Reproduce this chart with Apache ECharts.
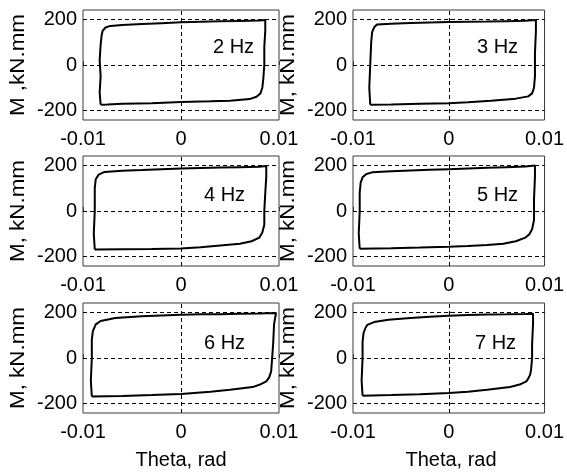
<!DOCTYPE html>
<html>
<head>
<meta charset="utf-8">
<script src="https://cdn.jsdelivr.net/npm/echarts@6/dist/echarts.min.js"></script>
<style>
html,body{margin:0;padding:0;background:#fff;}
#chart{width:567px;height:472px;}
</style>
</head>
<body>
<div id="chart"></div>
<script>
// ---- data ----
const panelLabels = ['2 Hz', '3 Hz', '4 Hz', '5 Hz', '6 Hz', '7 Hz'];
const yAxisTitles = ['M ,kN.mm', 'M, kN.mm', 'M, kN.mm', 'M, kN.mm', 'M, kN.mm', 'M, kN.mm'];
const xAxisTitle = 'Theta, rad';
const xTicks = [-0.01, 0, 0.01];
const yTicks = [-200, 0, 200];

const theta2Hz = [-0.0082,-0.0083,-0.0082,-0.0083,-0.0082,-0.0081,-0.0080,-0.0077,-0.0072,-0.006,-0.004,-0.002,0,0.002,0.004,0.006,0.008,0.0086,0.0086,0.0085,0.0085,0.0084,0.0083,0.0081,0.0077,0.007,0.005,0.003,0,-0.003,-0.006,-0.0075,-0.0082];
const moment2Hz = [-175,-120,-50,20,90,130,150,165,172,176,180,184,188,190,192,194,196,198,150,80,0,-60,-100,-125,-140,-150,-157,-160,-163,-168,-171,-174,-175];

const theta3Hz = [-0.0082,-0.0083,-0.0082,-0.0081,-0.0080,-0.0078,-0.0075,-0.006,-0.004,-0.002,0,0.002,0.004,0.006,0.008,0.0091,0.0091,0.0090,0.0090,0.0089,0.0087,0.0083,0.007,0.0044,0.002,0,-0.003,-0.006,-0.0082];
const moment3Hz = [-175,-100,0,100,145,165,178,182,185,187,189,190,191,193,195,198,150,50,-50,-100,-125,-138,-148,-157,-164,-168,-171,-174,-175];

const theta4Hz = [-0.0088,-0.0089,-0.0088,-0.0088,-0.0087,-0.0084,-0.0078,-0.006,-0.004,-0.002,0,0.002,0.004,0.006,0.008,0.0087,0.0087,0.0086,0.0085,0.0085,0.0083,0.0080,0.0072,0.006,0.004,0.002,0,-0.003,-0.006,-0.0088];
const moment4Hz = [-169,-100,0,100,140,160,172,177,180,184,187,189,191,193,195,198,150,80,0,-60,-95,-117,-133,-144,-152,-160,-165,-167,-168,-169];

const theta5Hz = [-0.0093,-0.0094,-0.0093,-0.0093,-0.0092,-0.0090,-0.0086,-0.008,-0.006,-0.004,-0.002,0,0.002,0.004,0.006,0.008,0.0090,0.0090,0.0089,0.0089,0.0087,0.0084,0.0080,0.007,0.0057,0.004,0.002,0,-0.003,-0.006,-0.0093];
const moment5Hz = [-166,-100,0,80,125,148,163,170,175,178,181,184,187,190,193,196,200,150,50,-40,-80,-103,-117,-133,-144,-150,-154,-157,-161,-164,-166];

const theta6Hz = [-0.0091,-0.0092,-0.0091,-0.0091,-0.0090,-0.0087,-0.0082,-0.0067,-0.004,-0.002,0,0.002,0.004,0.006,0.008,0.0097,0.0095,0.0094,0.0093,0.0092,0.0090,0.0087,0.0080,0.0073,0.005,0.003,0,-0.003,-0.006,-0.0091];
const moment6Hz = [-169,-100,0,80,117,148,163,176,184,187,190,192,193,195,196,198,150,60,0,-59,-85,-103,-118,-128,-140,-148,-158,-163,-167,-169];

const theta7Hz = [-0.0090,-0.0091,-0.0090,-0.0090,-0.0089,-0.0087,-0.0085,-0.0078,-0.0063,-0.004,-0.002,0,0.002,0.004,0.006,0.008,0.0088,0.0088,0.0087,0.0087,0.0086,0.0085,0.0083,0.0081,0.0074,0.0064,0.004,0.002,0,-0.003,-0.006,-0.0090];
const moment7Hz = [-166,-100,0,70,110,132,146,158,168,176,182,186,189,191,192,194,195,150,60,0,-50,-73,-90,-103,-117,-128,-140,-148,-154,-159,-163,-166];

const thetaSets = [theta2Hz, theta3Hz, theta4Hz, theta5Hz, theta6Hz, theta7Hz];
const momentSets = [moment2Hz, moment3Hz, moment4Hz, moment5Hz, moment6Hz, moment7Hz];

// ---- layout ----
const FONT = '"Liberation Sans", Arial, Helvetica, sans-serif';
const colLefts = [83, 353];
const rowTops = [10, 156, 303];
const gw = 196, gh = 110;
const hzPos = [[213, 47], [477, 47], [204, 195], [477, 195], [204, 343], [475, 343]];
const yTitleX = [18, 288];
const xTitleY = 460;

const grids = [], xAxes = [], yAxes = [], series = [], graphics = [];
for (let i = 0; i < 6; i++) {
  const col = i % 2, row = Math.floor(i / 2);
  grids.push({
    left: colLefts[col], top: rowTops[row], width: gw, height: gh,
    show: true, borderColor: '#3a3a3a', borderWidth: 1, backgroundColor: 'transparent',
    containLabel: false
  });
  xAxes.push({
    type: 'value', gridIndex: i, min: xTicks[0], max: xTicks[2], interval: 0.01,
    axisLine: { show: false },
    axisTick: { show: true, inside: true, length: 4, lineStyle: { color: '#3a3a3a' } },
    axisLabel: { show: true, fontSize: 20, fontFamily: FONT, color: '#000', margin: 9,
      showMinLabel: true, showMaxLabel: true,
      formatter: v => (Math.abs(v) < 1e-12 ? '0' : String(+v.toFixed(2))) },
    splitLine: { show: false }
  });
  yAxes.push({
    type: 'value', gridIndex: i, min: -242, max: 242,
    axisLine: { show: false },
    axisTick: { show: true, inside: true, length: 4, customValues: yTicks, lineStyle: { color: '#3a3a3a' } },
    axisLabel: { show: true, fontSize: 20, fontFamily: FONT, color: '#000', margin: 6, customValues: yTicks },
    splitLine: { show: false }
  });
  const th = thetaSets[i], mo = momentSets[i];
  series.push({
    type: 'line', xAxisIndex: i, yAxisIndex: i,
    data: th.map((t, k) => [t, mo[k]]),
    showSymbol: false, symbol: 'none', smooth: false,
    lineStyle: { color: '#000', width: 2 },
    animation: false, silent: true,
    markLine: {
      silent: true, symbol: 'none', animation: false,
      label: { show: false },
      lineStyle: { color: '#000', type: [4, 3], width: 1 },
      data: [{ xAxis: xTicks[1] }].concat(yTicks.map(v => ({ yAxis: v })))
    }
  });
  graphics.push({
    type: 'text', x: hzPos[i][0], y: hzPos[i][1], z: 100,
    style: { text: panelLabels[i], fontSize: 20, fontFamily: FONT, fill: '#000',
      align: 'left', verticalAlign: 'middle' }
  });
  graphics.push({
    type: 'text', x: yTitleX[col], y: rowTops[row] + gh / 2, rotation: Math.PI / 2, scaleX: 1.12, z: 100,
    style: { text: yAxisTitles[i], fontSize: 20, fontFamily: FONT, fill: '#000',
      align: 'center', verticalAlign: 'middle' }
  });
  if (row === 2) {
    graphics.push({
      type: 'text', x: colLefts[col] + gw / 2, y: xTitleY, z: 100,
      style: { text: xAxisTitle, fontSize: 20, fontFamily: FONT, fill: '#000',
        align: 'center', verticalAlign: 'middle' }
    });
  }
}

const chart = echarts.init(document.getElementById('chart'), null, { renderer: 'canvas' });
chart.setOption({
  backgroundColor: '#fff',
  animation: false,
  grid: grids, xAxis: xAxes, yAxis: yAxes, series: series,
  graphic: graphics
});
</script>
</body>
</html>
